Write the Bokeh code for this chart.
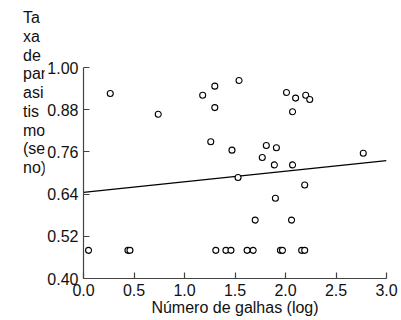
from bokeh.plotting import figure
from bokeh.layouts import row
from bokeh.models import Range1d, FixedTicker, Div
from bokeh.embed import file_html
from bokeh.resources import INLINE

# data
gall_log = [0.05, 0.44, 0.46, 1.31, 1.41, 1.46, 1.62, 1.68, 1.95, 1.97, 2.16, 2.19,
            1.70, 2.06, 1.90, 2.19, 1.53, 1.47, 1.77, 1.89, 2.07, 2.77,
            1.54, 1.30, 1.18, 1.30, 1.26, 1.81, 1.91, 2.01, 2.10, 2.20, 2.24, 2.07,
            0.265, 0.74]
parasitism = [0.480, 0.480, 0.480, 0.480, 0.480, 0.480, 0.480, 0.480, 0.480, 0.480, 0.480, 0.480,
              0.566, 0.566, 0.628, 0.666, 0.687, 0.765, 0.744, 0.723, 0.723, 0.756,
              0.963, 0.947, 0.921, 0.886, 0.789, 0.778, 0.772, 0.929, 0.913, 0.921, 0.909, 0.874,
              0.926, 0.867]
fit_intercept = 0.645
fit_slope = 0.030
x_ticks = [0.0, 0.5, 1.0, 1.5, 2.0, 2.5, 3.0]
y_ticks = [0.40, 0.52, 0.64, 0.76, 0.88, 1.00]
x_title = "Número de galhas (log)"
y_title_lines = ["Ta", "xa", "de", "par", "asi", "tis", "mo", "(se", "no)"]

FONT = "Liberation Sans"
FS = "16px"
INK = "#111111"
AXIS = "#444444"

# --- main chart
p = figure(width=356, height=318, output_backend="svg", toolbar_location=None,
           x_range=Range1d(x_ticks[0], x_ticks[-1]), y_range=Range1d(y_ticks[0], y_ticks[-1]),
           min_border_left=36, min_border_right=14, min_border_top=67, min_border_bottom=39)
p.outline_line_color = None
p.xgrid.visible = False
p.ygrid.visible = False

for ax in (p.xaxis[0], p.yaxis[0]):
    ax.axis_line_color = AXIS
    ax.axis_line_width = 1.2
    ax.major_tick_line_color = AXIS
    ax.major_tick_line_width = 1.2
    ax.major_tick_in = 6
    ax.major_tick_out = 0
    ax.minor_tick_line_color = None
    ax.major_label_text_font = FONT
    ax.major_label_text_font_size = FS
    ax.major_label_text_color = INK
    ax.major_label_standoff = 5

p.xaxis.ticker = FixedTicker(ticks=x_ticks)
p.yaxis.ticker = FixedTicker(ticks=y_ticks)
p.xaxis.major_label_overrides = {t: f"{t:.1f}" for t in x_ticks}
p.yaxis.major_label_overrides = {t: f"{t:.2f}" for t in y_ticks}
p.xaxis.axis_label = x_title
p.xaxis.axis_label_text_font = FONT
p.xaxis.axis_label_text_font_size = FS
p.xaxis.axis_label_text_font_style = "normal"
p.xaxis.axis_label_text_color = INK
p.xaxis.axis_label_standoff = 0

# regression line
xs = [x_ticks[0], x_ticks[-1]]
p.line(xs, [fit_intercept + fit_slope * x for x in xs], line_color="black", line_width=1.3)

# points
p.scatter(gall_log, parasitism, marker="circle", size=6, fill_color="white",
          line_color="black", line_width=1.1)

# --- wrapped y title, in a narrow strip to the left
ytitle = Div(text="<br>".join(y_title_lines), width=44, height=318, margin=0,
             styles={"font-family": FONT, "font-size": FS, "line-height": "18.75px",
                     "color": INK, "padding-top": "9px", "padding-left": "23px",
                     "box-sizing": "border-box", "white-space": "nowrap",
                     "overflow": "visible"})

layout = row(ytitle, p)
open("out.html", "w").write(file_html(layout, INLINE))
